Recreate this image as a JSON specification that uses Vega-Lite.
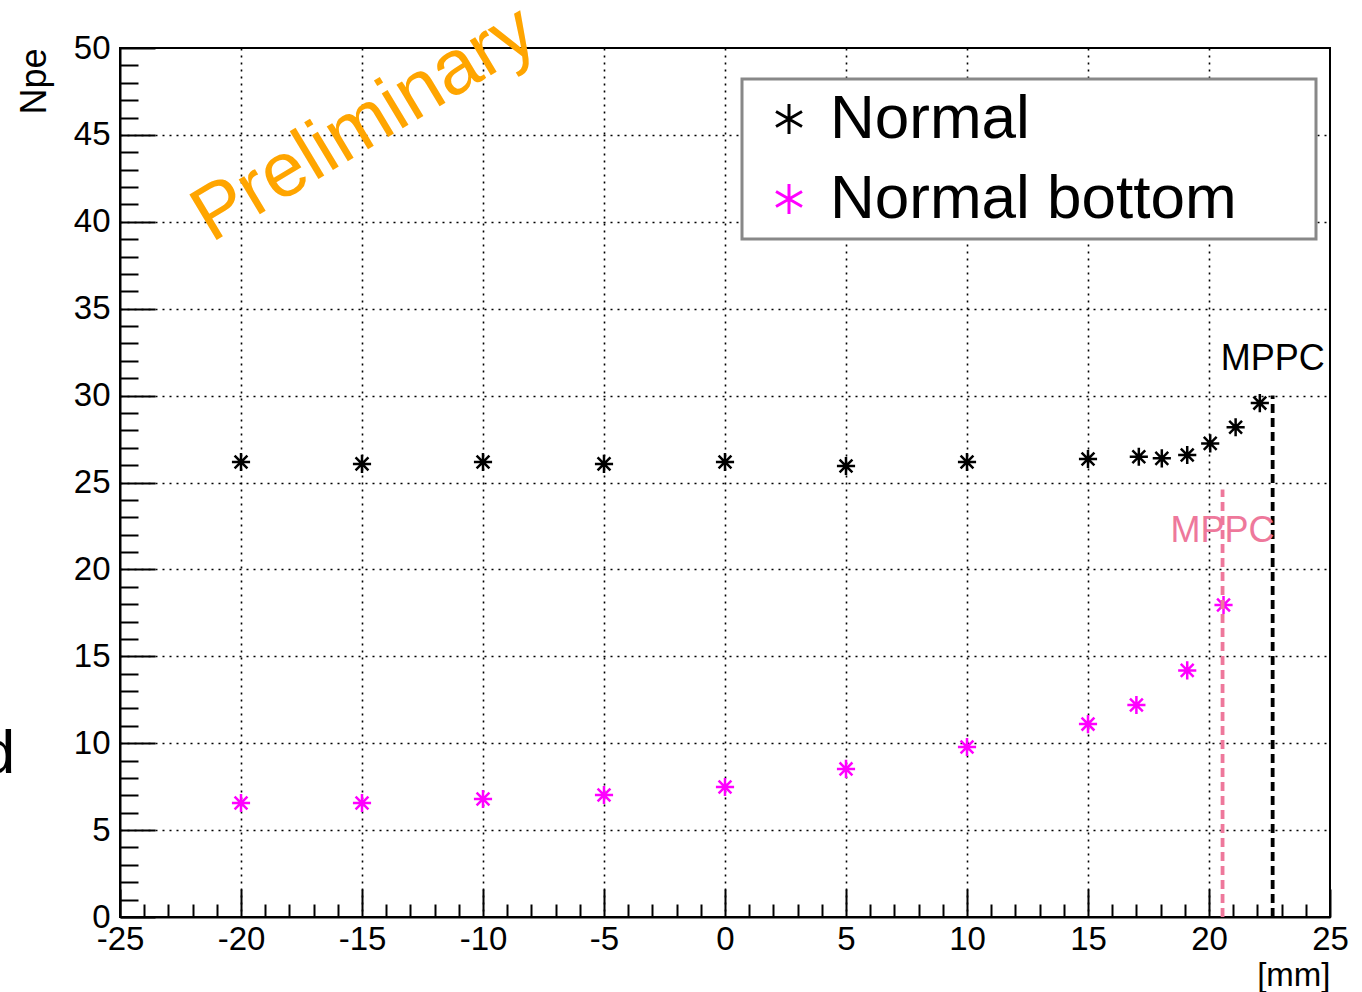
{
  "$schema": "https://vega.github.io/schema/vega-lite/v6.json",
  "width": 1210,
  "height": 869,
  "autosize": {"type": "none"},
  "padding": {"left": 120, "top": 48, "right": 32, "bottom": 75},
  "background": "white",
  "config": {
    "view": {"stroke": "black", "strokeWidth": 2},
    "font": "Liberation Sans",
    "legend": {"strokeWidth": 3}
  },
  "datasets": {
    "pts": [
      {"pos": -20, "npe": 26.18, "series": "Normal"},
      {"pos": -15, "npe": 26.07, "series": "Normal"},
      {"pos": -10, "npe": 26.18, "series": "Normal"},
      {"pos": -5, "npe": 26.07, "series": "Normal"},
      {"pos": 0, "npe": 26.18, "series": "Normal"},
      {"pos": 5, "npe": 25.95, "series": "Normal"},
      {"pos": 10, "npe": 26.18, "series": "Normal"},
      {"pos": 15, "npe": 26.35, "series": "Normal"},
      {"pos": 17.1, "npe": 26.48, "series": "Normal"},
      {"pos": 18.05, "npe": 26.39, "series": "Normal"},
      {"pos": 19.1, "npe": 26.58, "series": "Normal"},
      {"pos": 20.05, "npe": 27.25, "series": "Normal"},
      {"pos": 21.1, "npe": 28.18, "series": "Normal"},
      {"pos": 22.1, "npe": 29.57, "series": "Normal"},
      {"pos": -20, "npe": 6.56, "series": "Normal bottom"},
      {"pos": -15, "npe": 6.56, "series": "Normal bottom"},
      {"pos": -10, "npe": 6.79, "series": "Normal bottom"},
      {"pos": -5, "npe": 7.02, "series": "Normal bottom"},
      {"pos": 0, "npe": 7.48, "series": "Normal bottom"},
      {"pos": 5, "npe": 8.52, "series": "Normal bottom"},
      {"pos": 10, "npe": 9.78, "series": "Normal bottom"},
      {"pos": 15, "npe": 11.1, "series": "Normal bottom"},
      {"pos": 17.0, "npe": 12.2, "series": "Normal bottom"},
      {"pos": 19.1, "npe": 14.19, "series": "Normal bottom"},
      {"pos": 20.6, "npe": 17.95, "series": "Normal bottom"}
    ],
    "mppc": [
      {"pos": 22.63, "lo": 0, "hi": 30, "labelY": 31.5, "series": "Normal"},
      {"pos": 20.56, "lo": 0, "hi": 24.6, "labelY": 21.6, "series": "Normal bottom"}
    ],
    "notes": [
      {"pos": -14.9, "npe": 45.6, "text": "Preliminary"}
    ],
    "edge": [
      {"pos": -29.33, "npe": 8.29, "text": "d"}
    ]
  },
  "layer": [
    {
      "data": {"name": "pts"},
      "mark": {
        "type": "point",
        "shape": "M-1,0L1,0M0,-1L0,1M-0.707,-0.707L0.707,0.707M-0.707,0.707L0.707,-0.707",
        "filled": false,
        "size": 330,
        "strokeWidth": 2.5,
        "opacity": 1
      },
      "encoding": {
        "x": {
          "field": "pos",
          "type": "quantitative",
          "scale": {"domain": [-25, 25], "nice": false, "zero": false},
          "axis": {
            "values": [-25,-24,-23,-22,-21,-20,-19,-18,-17,-16,-15,-14,-13,-12,-11,-10,-9,-8,-7,-6,-5,-4,-3,-2,-1,0,1,2,3,4,5,6,7,8,9,10,11,12,13,14,15,16,17,18,19,20,21,22,23,24,25],
            "tickCount": 200,
            "tickSize": {"condition": {"test": "datum.value % 5 === 0", "value": -28}, "value": -13},
            "tickColor": "black",
            "tickWidth": 2,
            "labelExpr": "datum.value % 5 === 0 ? '' + datum.value : ''",
            "labelFontSize": 33,
            "labelColor": "black",
            "labelPadding": 34,
            "labelOverlap": false,
            "labelFlush": false,
            "grid": true,
            "gridColor": "black",
            "gridDash": [2, 5],
            "gridWidth": 1.6,
            "gridOpacity": {"condition": {"test": "datum.value % 5 === 0 && datum.value > -25 && datum.value < 25", "value": 1}, "value": 0},
            "domainColor": "black",
            "domainWidth": 2,
            "title": "[mm]",
            "titleAnchor": "end",
            "titleFontSize": 33,
            "titleFontWeight": "normal",
            "titleColor": "black",
            "titlePadding": -12
          }
        },
        "y": {
          "field": "npe",
          "type": "quantitative",
          "scale": {"domain": [0, 50], "nice": false, "zero": false},
          "axis": {
            "values": [0,1,2,3,4,5,6,7,8,9,10,11,12,13,14,15,16,17,18,19,20,21,22,23,24,25,26,27,28,29,30,31,32,33,34,35,36,37,38,39,40,41,42,43,44,45,46,47,48,49,50],
            "tickCount": 200,
            "tickSize": {"condition": {"test": "datum.value % 5 === 0", "value": -35}, "value": -18},
            "tickColor": "black",
            "tickWidth": 2,
            "labelExpr": "datum.value % 5 === 0 ? '' + datum.value : ''",
            "labelFontSize": 33,
            "labelColor": "black",
            "labelPadding": 45,
            "labelOverlap": false,
            "labelFlush": false,
            "grid": true,
            "gridColor": "black",
            "gridDash": [2, 5],
            "gridWidth": 1.6,
            "gridOpacity": {"condition": {"test": "datum.value % 5 === 0 && datum.value > 0 && datum.value < 50", "value": 1}, "value": 0},
            "domainColor": "black",
            "domainWidth": 2,
            "title": "Npe",
            "titleAnchor": "end",
            "titleFontSize": 36,
            "titleFontWeight": "normal",
            "titleColor": "black",
            "titlePadding": 20
          }
        },
        "color": {
          "field": "series",
          "type": "nominal",
          "scale": {"domain": ["Normal", "Normal bottom"], "range": ["#000000", "#FF00FF"]},
          "legend": {
            "orient": "none",
            "legendX": 622,
            "legendY": 31,
            "title": " ",
            "titleOrient": "right",
            "titleFontSize": 1,
            "titlePadding": 70,
            "fillColor": "white",
            "strokeColor": "#888888",
            "padding": 9,
            "labelFontSize": 62,
            "labelFont": "Liberation Sans",
            "labelColor": "black",
            "labelLimit": 1000,
            "symbolType": "M0,-1L0,1M-0.866,-0.5L0.866,0.5M-0.866,0.5L0.866,-0.5",
            "symbolSize": 900,
            "symbolStrokeWidth": 3,
            "labelOffset": 10,
            "symbolOffset": 7,
            "rowPadding": 18
          }
        }
      }
    },
    {
      "data": {"name": "mppc"},
      "mark": {"type": "rule", "strokeDash": [9, 5], "strokeWidth": 3.8},
      "encoding": {
        "x": {"field": "pos", "type": "quantitative"},
        "y": {"field": "lo", "type": "quantitative"},
        "y2": {"field": "hi"},
        "stroke": {
          "field": "series",
          "type": "nominal",
          "scale": {"domain": ["Normal", "Normal bottom"], "range": ["#000000", "#EE789B"]},
          "legend": null
        }
      }
    },
    {
      "data": {"name": "mppc"},
      "mark": {"type": "text", "text": "MPPC", "fontSize": 36, "align": "center", "baseline": "alphabetic", "font": "Liberation Sans"},
      "encoding": {
        "x": {"field": "pos", "type": "quantitative"},
        "y": {"field": "labelY", "type": "quantitative"},
        "fill": {
          "field": "series",
          "type": "nominal",
          "scale": {"domain": ["Normal", "Normal bottom"], "range": ["#000000", "#EE789B"]},
          "legend": null
        }
      }
    },
    {
      "data": {"name": "notes"},
      "mark": {"type": "text", "fontSize": 77, "align": "center", "baseline": "middle", "angle": -31, "color": "#FFA500", "font": "Liberation Sans"},
      "encoding": {
        "x": {"field": "pos", "type": "quantitative"},
        "y": {"field": "npe", "type": "quantitative"},
        "text": {"field": "text"}
      }
    },
    {
      "data": {"name": "edge"},
      "mark": {"type": "text", "fontSize": 62, "align": "right", "baseline": "alphabetic", "color": "black", "font": "Liberation Sans"},
      "encoding": {
        "x": {"field": "pos", "type": "quantitative"},
        "y": {"field": "npe", "type": "quantitative"},
        "text": {"field": "text"}
      }
    }
  ]
}
